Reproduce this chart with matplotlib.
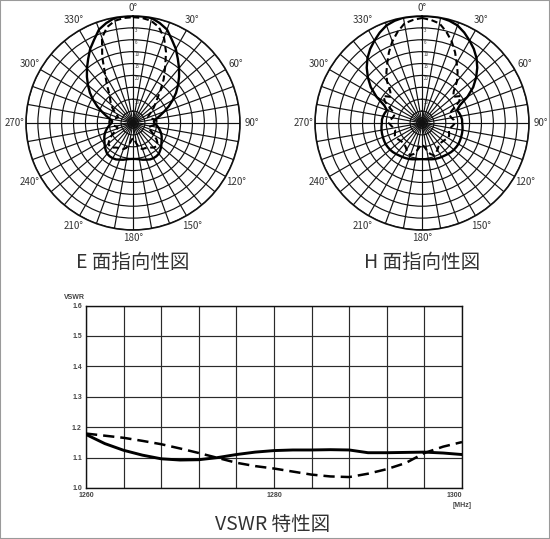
import matplotlib
matplotlib.use("Agg")
import matplotlib.pyplot as plt
import numpy as np
from matplotlib.patches import Rectangle

plt.rcParams["font.family"] = ["Noto Sans CJK JP", "DejaVu Sans"]

# polar grid: ring radius (fraction of outer circle) for each level in dB
RING_DB = [0, 3, 6, 10, 15, 20, 25, 30, 40, 50]
RING_R = [1.0, 8 / 9, 7 / 9, 6 / 9, 5 / 9, 4 / 9, 3 / 9, 2 / 9, 1 / 9, 0.0]
RING_LABELS = [3, 6, 10, 15, 20, 30, 40]

# pattern angles (deg, clockwise from 0 at top)
ANGLES = np.arange(0, 360, 5)

# relative level in dB, 0..355 deg every 5 deg
E_SOLID = [0, 0, 0.1, 0.9, 1.9, 3.8, 5.4, 7.7, 9.9, 12.6, 15.3, 17.9, 20.7, 23.4,
           26.1, 28.3, 30.2, 32.4, 32.0, 30.2, 29.2, 28.3, 27.4, 26.7, 26.1, 25.4,
           24.5, 23.8, 23.1, 22.9, 22.9, 23.1, 23.6, 24.0, 24.5, 24.8, 24.9,
           24.8, 24.5, 24.0, 23.6, 23.1, 22.9, 22.9, 23.1, 23.8, 24.5, 25.4, 26.1,
           26.7, 27.4, 28.3, 29.2, 30.2, 32.0, 32.4, 30.2, 28.3, 26.1, 23.4, 20.7,
           17.9, 15.3, 12.6, 9.9, 7.7, 5.4, 3.8, 1.9, 0.9, 0.1, 0]
E_DASHED = [0.3, 0.4, 0.8, 1.9, 4.1, 7.7, 13.0, 17.5, 22.0, 25.6, 27.9, 29.7, 32.9,
            35.6, 36.5, 34.7, 32.0, 30.2, 30.2, 32.0, 34.7, 36.5, 35.6, 32.9, 29.7,
            27.9, 26.5, 26.1, 26.5, 27.4, 27.9, 28.3, 28.3, 29.2, 32.0, 35.6, 37.4,
            35.6, 32.0, 29.2, 28.3, 28.3, 27.9, 27.4, 26.5, 26.1, 26.5, 27.9, 29.7,
            32.9, 35.6, 36.5, 34.7, 32.0, 30.2, 30.2, 32.0, 34.7, 36.5, 35.6, 32.9,
            29.7, 27.9, 26.5, 24.7, 21.1, 16.6, 9.5, 4.1, 1.9, 0.8, 0.4]
H_SOLID = [0, 0, 0, 0.3, 0.8, 1.8, 3.0, 4.2, 5.6, 7.7, 10.3, 13.7, 17.9, 22.5, 24.3,
           23.8, 23.4, 23.1, 23.1, 22.9, 22.7, 22.6, 22.5, 22.4, 22.3, 22.4, 22.5,
           22.7, 23.0, 23.3, 23.5, 23.7, 23.9, 24.2, 24.5, 24.7, 24.8,
           24.7, 24.5, 24.2, 23.9, 23.7, 23.5, 23.3, 23.0, 22.7, 22.5, 22.4, 22.3,
           22.4, 22.5, 22.6, 22.7, 22.9, 23.1, 23.1, 23.4, 23.8, 24.3, 22.5, 17.9,
           13.7, 10.3, 7.7, 5.6, 4.2, 3.0, 1.8, 0.8, 0.3, 0, 0]
H_DASHED = [0.5, 0.9, 1.5, 3.2, 5.1, 7.7, 10.8, 13.9, 17.1, 21.1, 22.9, 20.2, 22.0,
            25.2, 27.4, 27.9, 27.4, 26.5, 26.1, 27.0, 27.9, 28.3, 27.9, 27.4, 27.4,
            27.9, 28.3, 28.5, 28.3, 27.9, 27.0, 26.1, 25.6, 26.5, 28.3, 30.2, 32.0,
            30.2, 28.3, 26.5, 25.6, 26.1, 27.0, 27.9, 28.3, 28.5, 28.3, 27.9, 27.4,
            27.4, 27.9, 28.3, 27.9, 27.0, 26.1, 26.5, 27.4, 27.9, 27.4, 25.2, 22.0,
            20.2, 22.9, 21.1, 17.1, 13.9, 10.8, 7.7, 5.1, 3.2, 1.5, 0.9]

# VSWR characteristic
FREQ = [1260, 1262, 1264, 1266, 1268, 1270, 1272, 1274, 1276, 1278, 1280,
        1282, 1284, 1286, 1288, 1290, 1292, 1294, 1296, 1298, 1300]
VSWR_SOLID = [1.176, 1.146, 1.124, 1.108, 1.096, 1.092, 1.093, 1.100, 1.110, 1.118,
              1.123, 1.125, 1.125, 1.126, 1.125, 1.116, 1.116, 1.117, 1.118, 1.115, 1.110]
VSWR_DASHED = [1.179, 1.172, 1.165, 1.155, 1.144, 1.130, 1.115, 1.099, 1.083, 1.072,
               1.064, 1.054, 1.044, 1.038, 1.036, 1.047, 1.062, 1.082, 1.115, 1.136, 1.151]
VSWR_TICKS = [1.0, 1.1, 1.2, 1.3, 1.4, 1.5, 1.6]
FREQ_LABELS = [1260, 1280, 1300]

INK = "#111111"
TEXT = "#333333"


def db_to_r(db):
    return np.interp(db, RING_DB, RING_R)


def polar_panel(fig, rect, solid, dashed, title):
    ax = fig.add_axes(rect, projection="polar")
    ax.set_theta_zero_location("N")
    ax.set_theta_direction(-1)
    ax.set_ylim(0, 1)
    ax.set_rgrids([0.05] + sorted(RING_R[:-1]), labels=[])
    ax.set_thetagrids(np.arange(0, 360, 10), labels=[])
    ax.grid(True, color=INK, lw=0.85)
    ax.spines["polar"].set_linewidth(1.2)
    ax.spines["polar"].set_color(INK)

    th = np.deg2rad(np.append(ANGLES, ANGLES[0]))
    ax.plot(th, db_to_r(np.append(solid, solid[0])), color="black", lw=1.7, zorder=5)
    ax.plot(th, db_to_r(np.append(dashed, dashed[0])), color="black", lw=1.5,
            ls=(0, (3.0, 1.7)), zorder=5)

    for a in range(0, 360, 30):
        r = 1.075 if a in (0, 180) else 1.11
        ax.text(np.deg2rad(a), r, f"{a}°", ha="center", va="center",
                fontsize=7, color=TEXT)
    for db in RING_LABELS:
        ax.annotate(str(db), xy=(0, db_to_r(db)), xytext=(1.2, -2.2),
                    textcoords="offset points", fontsize=3.2, color=TEXT,
                    ha="left", va="center")
    fig.text(rect[0] + rect[2] / 2, 1 - 262 / 539, title, ha="center",
             va="center", fontsize=14, color=TEXT)
    return ax


fig = plt.figure(figsize=(5.5, 5.39), dpi=100)

polar_panel(fig, [26 / 550, 1 - 230 / 539, 214 / 550, 214 / 539],
            E_SOLID, E_DASHED, "E 面指向性図")
polar_panel(fig, [315 / 550, 1 - 230 / 539, 214 / 550, 214 / 539],
            H_SOLID, H_DASHED, "H 面指向性図")

ax = fig.add_axes([86 / 550, 1 - 488 / 539, 376 / 550, 182.5 / 539])
ax.plot(FREQ, VSWR_SOLID, color="black", lw=2.1, zorder=3)
ax.plot(FREQ, VSWR_DASHED, color="black", lw=1.8, ls=(0, (4.5, 2.4)), zorder=3)
ax.set_xlim(1260, 1300)
ax.set_ylim(1.0, 1.6)
ax.set_xticks(FREQ_LABELS)
ax.set_xticks(np.arange(1260, 1301, 4), minor=True)
ax.set_yticks(VSWR_TICKS)
ax.grid(True, which="both", color="#2a2a2a", lw=0.85)
ax.tick_params(which="both", length=0, pad=3, labelsize=5, labelcolor="#444444")
ax.set_yticklabels([f"{v:.1f}" for v in VSWR_TICKS], family="Liberation Sans",
                   fontweight="bold")
ax.set_xticklabels([str(v) for v in FREQ_LABELS], family="Liberation Sans",
                   fontweight="bold")
ax.get_xticklabels()[-1].set_ha("right")
for s in ax.spines.values():
    s.set_color(INK)
    s.set_linewidth(1.0)
ax.text(-0.003, 1.045, "VSWR", transform=ax.transAxes, ha="right", va="center",
        fontsize=5, fontweight="bold", family="Liberation Sans", color="#444444")
ax.text(1.0, -0.095, "[MHz]", transform=ax.transAxes, ha="center", va="center",
        fontsize=5, fontweight="bold", family="Liberation Sans", color="#444444")
fig.text(273 / 550, 1 - 524 / 539, "VSWR 特性図", ha="center", va="center",
         fontsize=14, color=TEXT)

fig.patches.append(Rectangle((0, 0), 1, 1, transform=fig.transFigure, fill=False,
                             ec="#9a9a9a", lw=1.5))

fig.savefig("out.png", dpi=100)
